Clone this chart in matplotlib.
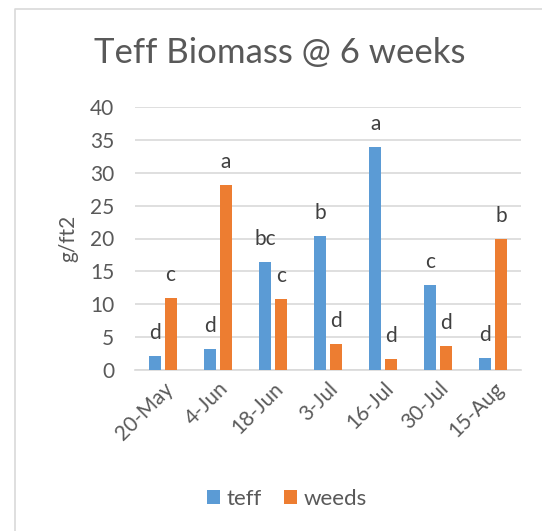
import numpy as np
import matplotlib
matplotlib.use("Agg")
import matplotlib.pyplot as plt
from matplotlib.lines import Line2D

plt.rcParams['font.family'] = ['Lato', 'DejaVu Sans']

dates = ["20-May", "4-Jun", "18-Jun", "3-Jul", "16-Jul", "30-Jul", "15-Aug"]
teff = [2.1, 3.2, 16.4, 20.4, 33.9, 12.9, 1.8]
weeds = [10.9, 28.1, 10.8, 4.0, 1.7, 3.7, 19.9]
teff_letters = ["d", "d", "bc", "b", "a", "c", "d"]
weeds_letters = ["c", "a", "c", "d", "d", "d", "b"]

blue = "#5b9bd5"
orange = "#ed7d31"
txt = "#595959"

fig = plt.figure(figsize=(5.42, 5.31), dpi=100)
ax = fig.add_axes([135/542, 1 - 370/531, (521-135)/542, (370-107)/531])

# chart frame: only the top and left edges show in the crop
fx, fy = 14.5/542, 1 - 9/531
fig.lines.append(Line2D([fx, fx, 1.01], [-0.01, fy, fy], transform=fig.transFigure,
                        color="#d9d9d9", lw=1.2))

x = np.arange(len(dates))
w = 0.22
off = 0.145
b1 = ax.bar(x - off, teff, w, color=blue, label="teff", zorder=3)
b2 = ax.bar(x + off, weeds, w, color=orange, label="weeds", zorder=3)

for xi, v, s in zip(x, teff, teff_letters):
    ax.text(xi - off, v + 3.5, s, ha="center", va="center", fontsize=15, color="#404040")
for xi, v, s in zip(x, weeds, weeds_letters):
    ax.text(xi + off, v + 3.5, s, ha="center", va="center", fontsize=15, color="#404040")

ax.set_ylim(0, 40)
ax.set_xlim(-0.5, len(dates) - 0.5)
ax.set_yticks(range(0, 41, 5))
ax.set_xticks(x)
ax.set_xticklabels(dates, rotation=45, ha="right", rotation_mode="anchor")
ax.tick_params(axis="both", length=0, labelsize=15, labelcolor=txt)
ax.tick_params(axis="y", pad=15)
ax.tick_params(axis="x", pad=6)
ax.grid(axis="y", color="#d9d9d9", lw=1.2, zorder=0)
for sp in ["top", "right", "left"]:
    ax.spines[sp].set_visible(False)
ax.spines["bottom"].set_color("#d9d9d9")
ax.spines["bottom"].set_linewidth(1.2)

ax.set_ylabel("g/ft2", fontsize=15, color=txt, labelpad=8)
fig.text(280/542, 1 - 53/531, "Teff Biomass @ 6 weeks", ha="center", va="center",
         fontsize=25, color=txt)

fig.legend(handles=[b1, b2], loc="center", bbox_to_anchor=(287/542, 1 - 499/531),
           ncol=2, frameon=False, fontsize=16, labelcolor=txt,
           handlelength=0.6, handleheight=0.6, handletextpad=0.3, columnspacing=1.0)

fig.savefig("out.png", dpi=100, facecolor="white")
